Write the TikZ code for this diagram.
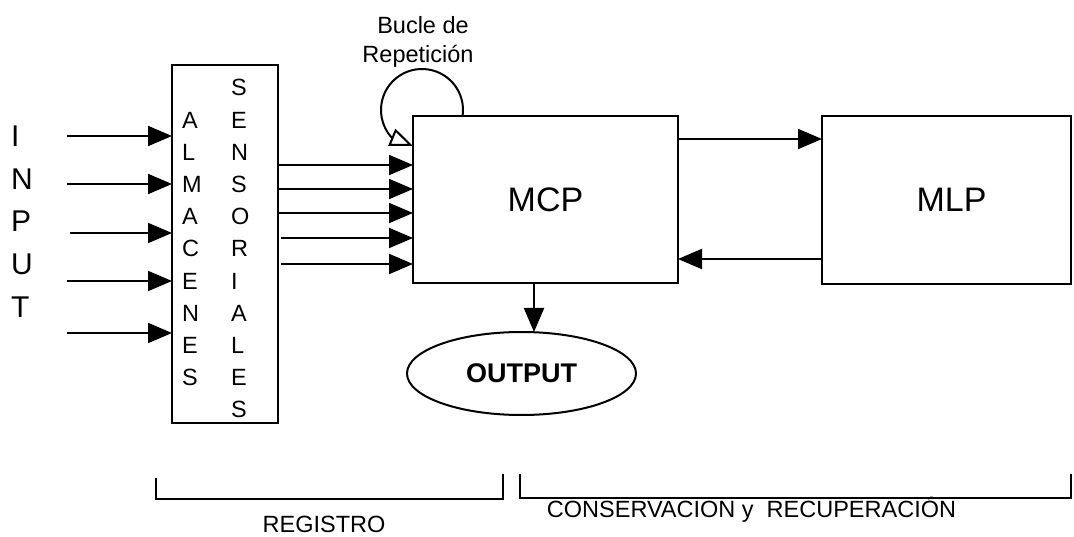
\documentclass[tikz,border=0pt]{standalone}
\usepackage{fontspec}
\setmainfont{Liberation Sans}
\usetikzlibrary{arrows.meta,shapes.geometric,calc}
\begin{document}
\begin{tikzpicture}[x=1pt,y=1pt,
  box/.style={draw,line width=2.6pt,inner sep=0pt,outer sep=0pt},
  arr/.style={line width=2pt,-{Triangle[length=24pt,width=20pt]}},
  brk/.style={line width=2.4pt},
  letter/.style={inner sep=0pt,anchor=base west,font=\fontsize{23.5}{26}\selectfont},
  bigletter/.style={inner sep=0pt,anchor=base west,font=\fontsize{30}{32}\selectfont},
  lbl/.style={inner sep=0pt,anchor=base,font=\fontsize{23.5}{26}\selectfont}]
\useasboundingbox (0,0) rectangle (1074,536);
% boxes
\node[box,minimum width=106pt,minimum height=358pt] (sens) at (225,292) {};
\node[box,minimum width=265pt,minimum height=167pt,font=\fontsize{34}{36}\selectfont] (mcp) at (545.5,336.5) {MCP};
\node[box,minimum width=249pt,minimum height=168pt,font=\fontsize{34}{36}\selectfont] (mlp) at (946.5,336) {\hspace*{10pt}MLP};
\node[draw,ellipse,line width=2pt,inner sep=0pt,outer sep=0pt,minimum width=229pt,minimum height=83pt,font=\bfseries\fontsize{27}{30}\selectfont] (out) at (521.5,162.5) {OUTPUT};
% sensor letters
\foreach \c [count=\k from 0] in {S,E,N,S,O,R,I,A,L,E,S}
  \node[letter] (sr\k) at (231,{440.1-32.2*\k}) {\c};
\foreach \c [count=\k from 1] in {A,L,M,A,C,E,N,E,S}
  \node[letter] (sl\k) at (182,{440.1-32.2*\k}) {\c};
% INPUT letters
\node[bigletter] (in1) at (11,389) {I};
\node[bigletter] (in2) at (11,346) {N};
\node[bigletter] (in3) at (11,304) {P};
\node[bigletter] (in4) at (11,261) {U};
\node[bigletter] (in5) at (11,218) {T};
% input arrows
\foreach \y/\x [count=\k] in {400/67,352/67,303/70,255/67,203/67}{
  \coordinate (ia\k) at (\x,\y);
  \draw[arr] (ia\k) -- (sens.west |- ia\k);
}
% sensor to MCP
\foreach \y/\x [count=\k] in {371/278,347/278,323/278,298/281,272/281}{
  \coordinate (sa\k) at (\x,\y);
  \draw[arr] (sa\k) -- (mcp.west |- sa\k);
}
% MCP <-> MLP
\coordinate (r1) at (0,397);
\coordinate (r2) at (0,277);
\draw[arr] (mcp.east |- r1) -- (mlp.west |- r1);
\draw[arr] (mlp.west |- r2) -- (mcp.east |- r2);
% MCP -> OUTPUT
\coordinate (d1) at (534,0);
\draw[arr] (mcp.south -| d1) -- (out.north -| d1);
% loop
\coordinate (lc) at (422,426);
\coordinate (ltip) at ($(mcp.north west)+(0,-30)$);
\draw[line width=2pt,-{Triangle[open,length=23pt,width=18pt]}]
  ($(lc)+(-8.4:41)$) arc[start angle=-8.4,end angle=221,radius=41] -- (ltip);
\node[lbl] (b1) at (423,502) {Bucle de};
\node[lbl] (b2) at (418,473) {Repetición};
% brackets
\draw[brk] (156,58) -- (156,37) -- (503,37) -- (503,62);
\draw[brk] (520,62) -- (520,38) -- (1071,38) -- (1071,62);
\node[lbl] (reg) at (324,4) {REGISTRO};
\node[lbl] (cons) at (751.5,19) {CONSERVACION y\ \ RECUPERACIÓN};
\end{tikzpicture}
\end{document}
